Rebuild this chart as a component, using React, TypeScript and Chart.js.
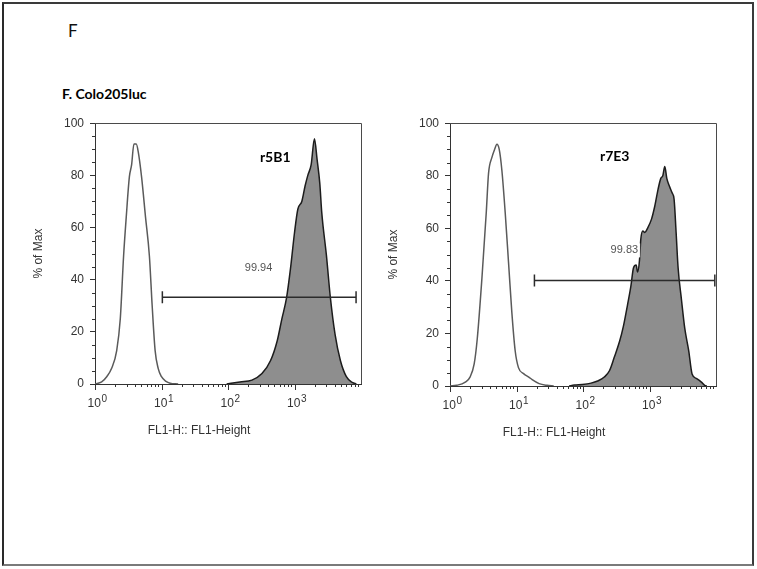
import React, { useEffect, useRef } from 'react';
import { Chart, registerables } from 'chart.js';

Chart.register(...registerables);

// ---------------- data ----------------
const figureLetter = 'F';
const figureTitle = 'F. Colo205luc';
const xAxisTitle = 'FL1-H:: FL1-Height';
const yAxisTitle = '% of Max';

const yTickValues = [0, 20, 40, 60, 80, 100];
const yMinorTickValues = [5, 10, 15, 25, 30, 35, 45, 50, 55, 65, 70, 75, 85, 90, 95];
const xDecadeValues = [1, 10, 100, 1000];
const xDecadeBase = '10';
const xDecadeExponents = ['0', '1', '2', '3'];
const xMinorTickValues = [
  2, 3, 4, 5, 6, 7, 8, 9,
  20, 30, 40, 50, 60, 70, 80, 90,
  200, 300, 400, 500, 600, 700, 800, 900,
  2000, 3000, 4000, 5000, 6000, 7000, 8000, 9000,
];

// r5B1 panel
const r5b1Name = 'r5B1';
const r5b1NameAt = [513, 87];
const r5b1ControlX = [1, 1.26, 1.5, 1.78, 2.12, 2.4, 2.69, 2.95, 3.29, 3.55, 3.85, 4.17, 4.47, 5.01, 5.75, 6.58, 7.24, 8.02, 8.91, 10, 11.7, 13.5, 17.8];
const r5b1ControlY = [0, 0.8, 2.8, 6, 12.8, 25, 49, 64, 79.5, 84, 92, 92, 89, 79.5, 64, 49, 30, 12.8, 6, 2.8, 1, 0.3, 0];
const r5b1StainX = [95.5, 151, 229, 324, 437, 550, 646, 759, 871, 1000, 1122, 1288, 1445, 1585, 1778, 1995, 2188, 2399, 2570, 3020, 3467, 4074, 4898, 6026, 7413, 8511];
const r5b1StainY = [0, 0.8, 1.5, 4, 9, 16.6, 25, 33, 44.3, 58, 67, 70, 76, 80, 84, 94, 86, 77, 65.7, 49.3, 33, 19, 9, 2.8, 0.6, 0];
const r5b1Gate = [10.3, 8430];
const r5b1GateLevel = 33.3;
const r5b1GatePercent = '99.94';
const r5b1GateLabelAt = [288, 44.3];

// r7E3 panel
const r7e3Name = 'r7E3';
const r7e3NameAt = [300, 87.3];
const r7e3ControlX = [1, 1.26, 1.7, 2.0, 2.31, 2.57, 3.02, 3.51, 3.8, 4.27, 4.68, 5.08, 5.5, 6.03, 6.76, 7.59, 8.51, 9.55, 10.7, 12.9, 15.3, 17.2, 21.9, 28.8, 36.3];
const r7e3ControlY = [0, 0.25, 1.5, 3.4, 8.4, 18, 41, 66, 81, 87, 90, 92, 90, 82, 66, 47, 28, 13.4, 7, 4.6, 3.4, 2.4, 0.9, 0.25, 0];
const r7e3StainX = [61.7, 74.1, 97.7, 132, 166, 209, 251, 295, 355, 407, 468, 525, 575, 631, 661, 708, 741, 794, 851, 933, 1072, 1202, 1349, 1479, 1585, 1698, 1820, 1995, 2188, 2344, 2512, 2692, 3020, 3388, 3890, 4365, 5129, 6026, 6761, 7244];
const r7e3StainY = [0, 0.4, 0.6, 1.1, 1.9, 3.4, 5.9, 10.9, 17, 23, 31, 38, 45, 46, 43.4, 48, 56, 59, 58.4, 60, 63.5, 68.5, 75, 79, 80, 83.5, 79, 76, 73.5, 71, 58.5, 45, 33, 22, 13.4, 4.6, 2.8, 1.5, 0.25, 0];
const r7e3Gate = [18.6, 9600];
const r7e3GateLevel = 40.1;
const r7e3GatePercent = '99.83';
const r7e3GateLabelAt = [419, 51.6];

// ---------------- styles ----------------
const ARIAL = '"Liberation Sans", Arial, Helvetica, sans-serif';
const CALIBRI = 'Lato, "Noto Sans", sans-serif';
const AXIS_COLOR = '#333333';

type Panel = {
  name: string; nameAt: number[];
  controlX: number[]; controlY: number[];
  stainX: number[]; stainY: number[];
  gate: number[]; gateLevel: number; gatePercent: string; gateLabelAt: number[]; gateLabelBox: boolean;
  xAxisHeight: number;
};

const panels: Panel[] = [
  {
    name: r5b1Name, nameAt: r5b1NameAt,
    controlX: r5b1ControlX, controlY: r5b1ControlY,
    stainX: r5b1StainX, stainY: r5b1StainY,
    gate: r5b1Gate, gateLevel: r5b1GateLevel, gatePercent: r5b1GatePercent, gateLabelAt: r5b1GateLabelAt, gateLabelBox: false,
    xAxisHeight: 56,
  },
  {
    name: r7e3Name, nameAt: r7e3NameAt,
    controlX: r7e3ControlX, controlY: r7e3ControlY,
    stainX: r7e3StainX, stainY: r7e3StainY,
    gate: r7e3Gate, gateLevel: r7e3GateLevel, gatePercent: r7e3GatePercent, gateLabelAt: r7e3GateLabelAt, gateLabelBox: true,
    xAxisHeight: 54,
  },
];

const decorPlugin = {
  id: 'flowDecor',
  afterDatasetsDraw(chart: any, _args: any, opts: any) {
    const panel: Panel = opts.panel;
    const { ctx, chartArea: a } = chart;
    const x = chart.scales.x;
    const y = chart.scales.y;
    ctx.save();
    // box top / right
    ctx.strokeStyle = '#4a4a4a';
    ctx.lineWidth = 1;
    ctx.beginPath();
    ctx.moveTo(a.left, Math.round(a.top) + 0.5);
    ctx.lineTo(Math.round(a.right) + 0.5, Math.round(a.top) + 0.5);
    ctx.lineTo(Math.round(a.right) + 0.5, a.bottom);
    ctx.stroke();

    // minor y ticks and x ticks
    ctx.strokeStyle = AXIS_COLOR;
    ctx.beginPath();
    for (const v of yMinorTickValues) {
      const py = Math.round(y.getPixelForValue(v)) + 0.5;
      ctx.moveTo(a.left - 3, py);
      ctx.lineTo(a.left, py);
    }
    for (const v of xMinorTickValues) {
      const px = Math.round(x.getPixelForValue(v)) + 0.5;
      ctx.moveTo(px, a.bottom);
      ctx.lineTo(px, a.bottom + 3);
    }
    for (const v of xDecadeValues) {
      const px = Math.round(x.getPixelForValue(v)) + 0.5;
      ctx.moveTo(px, a.bottom);
      ctx.lineTo(px, a.bottom + 6);
    }
    ctx.stroke();

    // decade labels 10^k
    ctx.fillStyle = AXIS_COLOR;
    ctx.textAlign = 'left';
    ctx.textBaseline = 'alphabetic';
    xDecadeValues.forEach((v, i) => {
      const px = x.getPixelForValue(v);
      ctx.font = `12px ${ARIAL}`;
      const wb = ctx.measureText(xDecadeBase).width;
      ctx.font = `10px ${ARIAL}`;
      const we = ctx.measureText(xDecadeExponents[i]).width;
      const start = px - (wb + we) / 2 + 2;
      ctx.font = `12px ${ARIAL}`;
      ctx.fillText(xDecadeBase, start, a.bottom + 23);
      ctx.font = `10px ${ARIAL}`;
      ctx.fillText(xDecadeExponents[i], start + wb + 0.5, a.bottom + 18);
    });

    // x title
    ctx.font = `12px ${ARIAL}`;
    ctx.textAlign = 'center';
    ctx.textBaseline = 'middle';
    ctx.fillText(xAxisTitle, a.left + 104, a.bottom + 47);

    // gate label
    const gx = x.getPixelForValue(panel.gateLabelAt[0]);
    const gy = y.getPixelForValue(panel.gateLabelAt[1]);
    ctx.font = `11px ${ARIAL}`;
    if (panel.gateLabelBox) {
      const w = ctx.measureText(panel.gatePercent).width;
      ctx.fillStyle = 'rgba(255,255,255,0.92)';
      ctx.fillRect(gx - w / 2 - 2, gy - 7, w + 4, 14);
    }
    ctx.fillStyle = '#555555';
    ctx.fillText(panel.gatePercent, gx, gy);

    // sample name
    ctx.font = `bold 14px ${CALIBRI}`;
    ctx.fillStyle = '#000000';
    ctx.fillText(panel.name, x.getPixelForValue(panel.nameAt[0]), y.getPixelForValue(panel.nameAt[1]));
    ctx.restore();
  },
};

function HistogramPanel({ panel, left, top }: { panel: Panel; left: number; top: number }) {
  const ref = useRef<HTMLCanvasElement | null>(null);
  useEffect(() => {
    const canvas = ref.current;
    if (!canvas) return;
    const chart = new Chart(canvas, {
      type: 'line',
      data: {
        datasets: [
          {
            label: 'gate',
            data: panel.gate.map((g) => ({ x: g, y: panel.gateLevel })),
            borderColor: '#2b2b2b',
            borderWidth: 1.5,
            pointStyle: 'line',
            pointRotation: 90,
            pointRadius: 6,
            pointBorderWidth: 1.5,
            pointBorderColor: '#2b2b2b',
            pointBackgroundColor: '#2b2b2b',
            fill: false,
            order: 0,
          },
          {
            label: 'stained',
            data: panel.stainX.map((v, i) => ({ x: v, y: panel.stainY[i] })),
            borderColor: '#1c1c1c',
            borderWidth: 1.5,
            backgroundColor: '#8e8e8e',
            fill: 'origin',
            pointRadius: 0,
            cubicInterpolationMode: 'monotone',
            order: 1,
          },
          {
            label: 'control',
            data: panel.controlX.map((v, i) => ({ x: v, y: panel.controlY[i] })),
            borderColor: '#5a5a5a',
            borderWidth: 1.5,
            fill: false,
            pointRadius: 0,
            cubicInterpolationMode: 'monotone',
            order: 2,
          },
        ],
      },
      options: {
        responsive: false,
        animation: false,
        devicePixelRatio: 1,
        layout: { padding: { top: 9, right: 9, left: 0, bottom: 0 } },
        plugins: {
          legend: { display: false },
          tooltip: { enabled: false },
          flowDecor: { panel },
        } as any,
        scales: {
          x: {
            type: 'logarithmic',
            min: 1,
            max: 10000,
            grid: { display: false },
            ticks: { display: false },
            border: { display: true, color: AXIS_COLOR, width: 1 },
            afterFit: (s: any) => { s.height = panel.xAxisHeight; },
          },
          y: {
            type: 'linear',
            min: 0,
            max: 100,
            afterBuildTicks: (s: any) => { s.ticks = yTickValues.map((v) => ({ value: v })); },
            grid: { drawOnChartArea: false, drawTicks: true, tickLength: 5, tickColor: AXIS_COLOR },
            border: { display: true, color: AXIS_COLOR, width: 1 },
            ticks: { color: AXIS_COLOR, padding: 6, font: { family: ARIAL, size: 12 } },
            title: {
              display: true,
              text: yAxisTitle,
              color: AXIS_COLOR,
              font: { family: ARIAL, size: 12 },
              padding: { top: 1, bottom: 0 },
            },
            afterFit: (s: any) => { s.width = 65; },
          },
        },
      } as any,
      plugins: [decorPlugin as any],
    });
    return () => chart.destroy();
  }, [panel]);
  return (
    <canvas
      ref={ref}
      width={340}
      height={330}
      style={{ position: 'absolute', left, top, width: 340, height: 330, display: 'block' }}
    />
  );
}

export default function App() {
  return (
    <div style={{ position: 'absolute', left: 0, top: 0, width: 757, height: 569, background: '#ffffff', overflow: 'hidden' }}>
      <div
        style={{
          position: 'absolute', left: 2, top: 2, width: 752, height: 564, boxSizing: 'border-box',
          borderStyle: 'solid', borderWidth: 2, borderColor: '#3a3a3a #3a3a3a #7a7a7a #2a2a2a',
        }}
      />
      <div style={{ position: 'absolute', left: 68, top: 22, fontFamily: CALIBRI, fontSize: 17, lineHeight: '17px', color: '#111' }}>
        {figureLetter}
      </div>
      <div style={{ position: 'absolute', left: 62, top: 87, fontFamily: CALIBRI, fontWeight: 700, fontSize: 14, lineHeight: '14px', color: '#000', whiteSpace: 'nowrap' }}>
        {figureTitle}
      </div>
      <HistogramPanel panel={panels[0]} left={30} top={110} />
      <HistogramPanel panel={panels[1]} left={385} top={110} />
    </div>
  );
}
